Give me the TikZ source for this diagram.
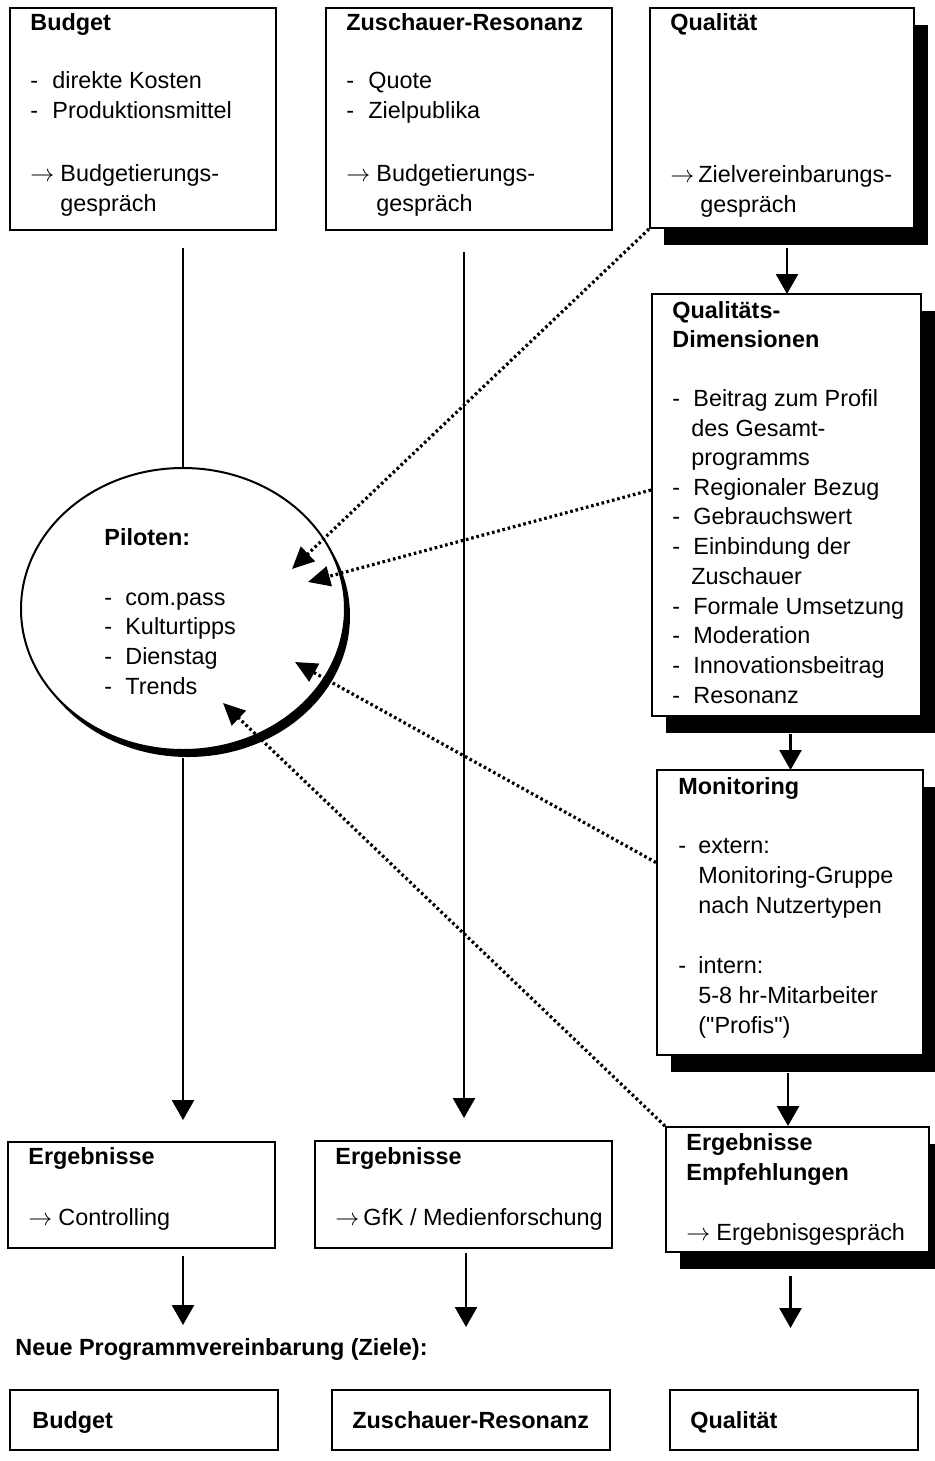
\documentclass[tikz,border=0pt]{standalone}
\usepackage{fontspec}
\setmainfont{Liberation Sans}
\usetikzlibrary{arrows.meta,shapes.geometric,fit,shadows,calc}
\newcommand\mydash{\makebox[10.5pt][l]{-}}
\begin{document}
\begin{tikzpicture}[x=0.5pt,y=-0.5pt,
  box/.style={draw, line width=1pt, fill=white, inner sep=0pt},
  shbox/.style={box, drop shadow={shadow xshift=7pt, shadow yshift=-8.5pt, opacity=1, fill=black}},
  txt/.style={inner sep=0pt, anchor=base west, font=\fontsize{11.7pt}{15pt}\selectfont},
  txb/.style={inner sep=0pt, anchor=base west, font=\fontsize{11.7pt}{15pt}\selectfont\bfseries},
  sarr/.style={line width=1.3pt, -{Triangle[length=10pt,width=11pt]}},
  sline/.style={line width=1.3pt},
  dotarr/.style={line width=1.6pt, dash pattern=on 1.3pt off 1.4pt, -{Triangle[length=11pt,width=10pt]}},
]
\useasboundingbox (0,0) rectangle (935,1461);

% boxes
\node[box, fit={(10,8) (276,230)}] (budget) {};
\node[box, fit={(326,8) (612,230)}] (zusch) {};
\node[shbox, fit={(650,8) (914,228)}] (qual) {};
\node[shbox, fit={(652,294) (921,716)}] (qd) {};
\node[shbox, fit={(657,770) (923,1055)}] (mon) {};
\node[shbox, fit={(666,1127) (929,1252)}] (ee) {};
\node[box, fit={(8,1142) (275,1248)}] (ctrl) {};
\node[box, fit={(315,1141) (612,1248)}] (gfk) {};
\node[box, fit={(10,1390) (278,1450)}] (qb1) {};
\node[box, fit={(332,1390) (610,1450)}] (qb2) {};
\node[box, fit={(670,1390) (918,1450)}] (qb3) {};

% ellipse
\node[draw, ellipse, line width=1pt, fill=white, minimum width=162pt, minimum height=141pt, inner sep=0pt,
  drop shadow={shadow xshift=2.5pt, shadow yshift=-3.5pt, opacity=1, fill=black}] (pil) at (183,609) {};

% texts: Budget
\node[txb] (t1) at (30,31) {Budget};
\node[txt] (t2) at (30,89) {\makebox[11pt][l]{-}direkte Kosten};
\node[txt] (t3) at (30,119) {\makebox[11pt][l]{-}Produktionsmittel};
\node[txt] (t4) at (30,181) {\makebox[15pt][l]{$\rightarrow$}Budgetierungs-};
\node[txt] (t5) at (60,211) {gespräch};
% Zuschauer
\node[txb] (z1) at (346,31) {Zuschauer-Resonanz};
\node[txt] (z2) at (346,89) {\makebox[11pt][l]{-}Quote};
\node[txt] (z3) at (346,119) {\makebox[11pt][l]{-}Zielpublika};
\node[txt] (z4) at (346,181) {\makebox[15pt][l]{$\rightarrow$}Budgetierungs-};
\node[txt] (z5) at (376,211) {gespräch};
% Qualitaet
\node[txb] (q1) at (670,31) {Qualität};
\node[txt] (q2) at (670,182) {\makebox[14pt][l]{$\rightarrow$}Zielvereinbarungs-};
\node[txt] (q3) at (700,212) {gespräch};
% Qualitaets-Dimensionen
\node[txb] (d1) at (672,318) {Qualitäts-};
\node[txb] (d2) at (672,347) {Dimensionen};
\node[txt] (d3) at (672,406) {\mydash Beitrag zum Profil};
\node[txt] (d4) at (691,436) {des Gesamt-};
\node[txt] (d5) at (691,465) {programms};
\node[txt] (d6) at (672,495) {\mydash Regionaler Bezug};
\node[txt] (d7) at (672,524) {\mydash Gebrauchswert};
\node[txt] (d8) at (672,554) {\mydash Einbindung der};
\node[txt] (d9) at (691,584) {Zuschauer};
\node[txt] (d10) at (672,614) {\mydash Formale Umsetzung};
\node[txt] (d11) at (672,643) {\mydash Moderation};
\node[txt] (d12) at (672,673) {\mydash Innovationsbeitrag};
\node[txt] (d13) at (672,703) {\mydash Resonanz};
% Monitoring
\node[txb] (m1) at (678,794) {Monitoring};
\node[txt] (m2) at (678,853) {\makebox[10pt][l]{-}extern:};
\node[txt] (m3) at (698,883) {Monitoring-Gruppe};
\node[txt] (m4) at (698,913) {nach Nutzertypen};
\node[txt] (m5) at (678,973) {\makebox[10pt][l]{-}intern:};
\node[txt] (m6) at (698,1003) {5-8 hr-Mitarbeiter};
\node[txt] (m7) at (698,1033) {(\textquotedbl Profis\textquotedbl)};
% Ergebnisse Empfehlungen
\node[txb] (e1) at (686,1150) {Ergebnisse};
\node[txb] (e2) at (686,1180) {Empfehlungen};
\node[txt] (e3) at (686,1240) {\makebox[15pt][l]{$\rightarrow$}Ergebnisgespräch};
% Controlling / GfK
\node[txb] (c1) at (28,1164) {Ergebnisse};
\node[txt] (c2) at (28,1225) {\makebox[15pt][l]{$\rightarrow$}Controlling};
\node[txb] (g1) at (335,1164) {Ergebnisse};
\node[txt] (g2) at (335,1225) {\makebox[14pt][l]{$\rightarrow$}GfK / Medienforschung};
% Neue
\node[txb] (neu) at (15,1355) {Neue Programmvereinbarung (Ziele):};
\node[txb] (b1) at (32,1428) {Budget};
\node[txb] (b2) at (352,1428) {Zuschauer-Resonanz};
\node[txb] (b3) at (690,1428) {Qualität};
% Piloten
\node[txb] (p0) at (104,545) {Piloten:};
\node[txt] (p1) at (104,605) {\mydash com.pass};
\node[txt] (p2) at (104,634) {\mydash Kulturtipps};
\node[txt] (p3) at (104,664) {\mydash Dienstag};
\node[txt] (p4) at (104,694) {\mydash Trends};

% free ends
\coordinate (lb0) at (183,248);
\coordinate (lb1) at (183,1120);
\coordinate (lm0) at (464,252);
\coordinate (lm1) at (464,1118);
\coordinate (tip1) at (292,569);
\coordinate (tip2) at (308,582);
\coordinate (tip3) at (295,662);
\coordinate (tip4) at (223,703);

% solid connectors
\draw[sline] (lb0) -- (pil.north);
\draw[sarr] ($(pil.south)+(0,7)$) -- (lb1);
\draw[sarr] (lm0) -- (lm1);
\draw[sarr] ($(qual.south)+(5,19)$) -- ($(qual.south)+(5,65)$);
\draw[sarr] ($(qd.south)+(4,17)$) -- ($(qd.south)+(4,53)$);
\draw[sarr] ($(mon.south)+(-2,17)$) -- ($(mon.south)+(-2,70)$);
\draw[sarr] ($(ee.south)+(-7,23)$) -- ($(ee.south)+(-7,75)$);
\draw[sarr] ($(ctrl.south -| lb0)+(0,7)$) -- ($(qb1.north -| lb0)+(0,-64)$);
\draw[sarr] ($(gfk.south -| 466,0)+(0,4)$) -- ($(qb2.north -| 466,0)+(0,-62)$);

% dotted connectors
\draw[dotarr] (qual.south west) -- (tip1);
\draw[dotarr] ($(qd.west)+(0,-15)$) -- (tip2);
\draw[dotarr] ($(mon.west)+(0,-50)$) -- (tip3);
\draw[dotarr] (ee.north west) -- (tip4);
\end{tikzpicture}
\end{document}
